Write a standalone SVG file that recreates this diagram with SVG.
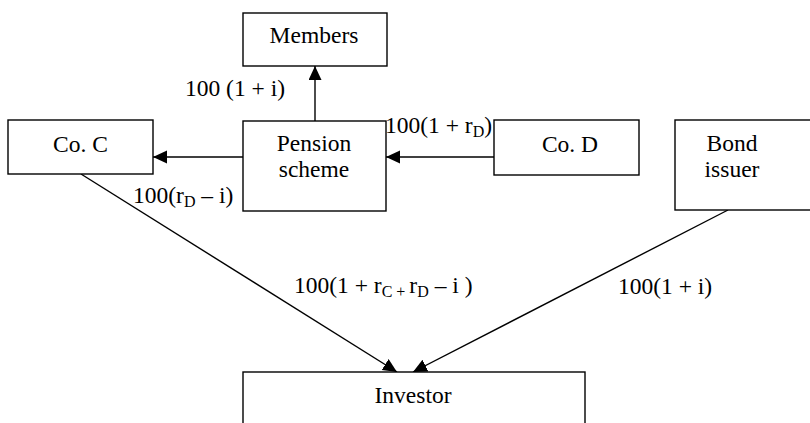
<svg xmlns="http://www.w3.org/2000/svg" width="810" height="423" viewBox="0 0 810 423">
<style>
.box{fill:#fff;stroke:#000;stroke-width:1.4}
.t{font-family:"Liberation Serif","Times New Roman",serif;font-size:23.5px;fill:#000}
.c{text-anchor:middle}
.sub{font-size:16px}
.ln{stroke:#000;stroke-width:1.4;fill:none;marker-end:url(#ah)}
</style>
<defs>
<marker id="ah" markerUnits="userSpaceOnUse" markerWidth="16" markerHeight="14" refX="14" refY="6.5" orient="auto">
<path d="M0,0 L14,6.5 L0,13 Z" fill="#000"/>
</marker>
</defs>
<rect width="810" height="423" fill="#fff"/>
<g id="connectors">
<line class="ln" x1="315" y1="121" x2="315" y2="66"/>
<line class="ln" x1="243" y1="157" x2="153" y2="157"/>
<line class="ln" x1="494" y1="157" x2="386" y2="157"/>
<line class="ln" x1="81" y1="174" x2="397" y2="372"/>
<line class="ln" x1="728" y1="210" x2="413" y2="372"/>
</g>
<g id="labels">
<text class="t" x="285" y="96" text-anchor="end">100 (1 + i)</text>
<text class="t" x="385" y="133">100(1 + r<tspan class="sub" dy="4">D</tspan><tspan dy="-4">)</tspan></text>
<text class="t" x="133" y="203">100(r<tspan class="sub" dy="4">D</tspan><tspan dy="-4"> – i)</tspan></text>
<text class="t" x="294" y="293">100(1 + r<tspan class="sub" dy="4">C + </tspan><tspan dy="-4">r</tspan><tspan class="sub" dy="4">D</tspan><tspan dy="-4"> – i )</tspan></text>
<text class="t" x="618" y="294">100(1 + i)</text>
</g>
<g id="members">
<rect class="box" x="243" y="13" width="144" height="53"/>
<text class="t c" x="314" y="43">Members</text>
</g>
<g id="pension">
<rect class="box" x="243" y="121" width="143" height="90"/>
<text class="t c" x="314" y="151">Pension</text>
<text class="t c" x="314" y="177">scheme</text>
</g>
<g id="coc">
<rect class="box" x="8" y="120" width="145" height="54"/>
<text class="t c" x="80.5" y="152">Co. C</text>
</g>
<g id="cod">
<rect class="box" x="494" y="120" width="145" height="55"/>
<text class="t c" x="570" y="152">Co. D</text>
</g>
<g id="bond">
<rect class="box" x="675" y="120" width="150" height="90"/>
<text class="t c" x="732" y="151">Bond</text>
<text class="t c" x="732" y="177">issuer</text>
</g>
<g id="investor">
<rect class="box" x="243" y="372" width="342" height="80"/>
<text class="t c" x="413" y="403">Investor</text>
</g>
</svg>
